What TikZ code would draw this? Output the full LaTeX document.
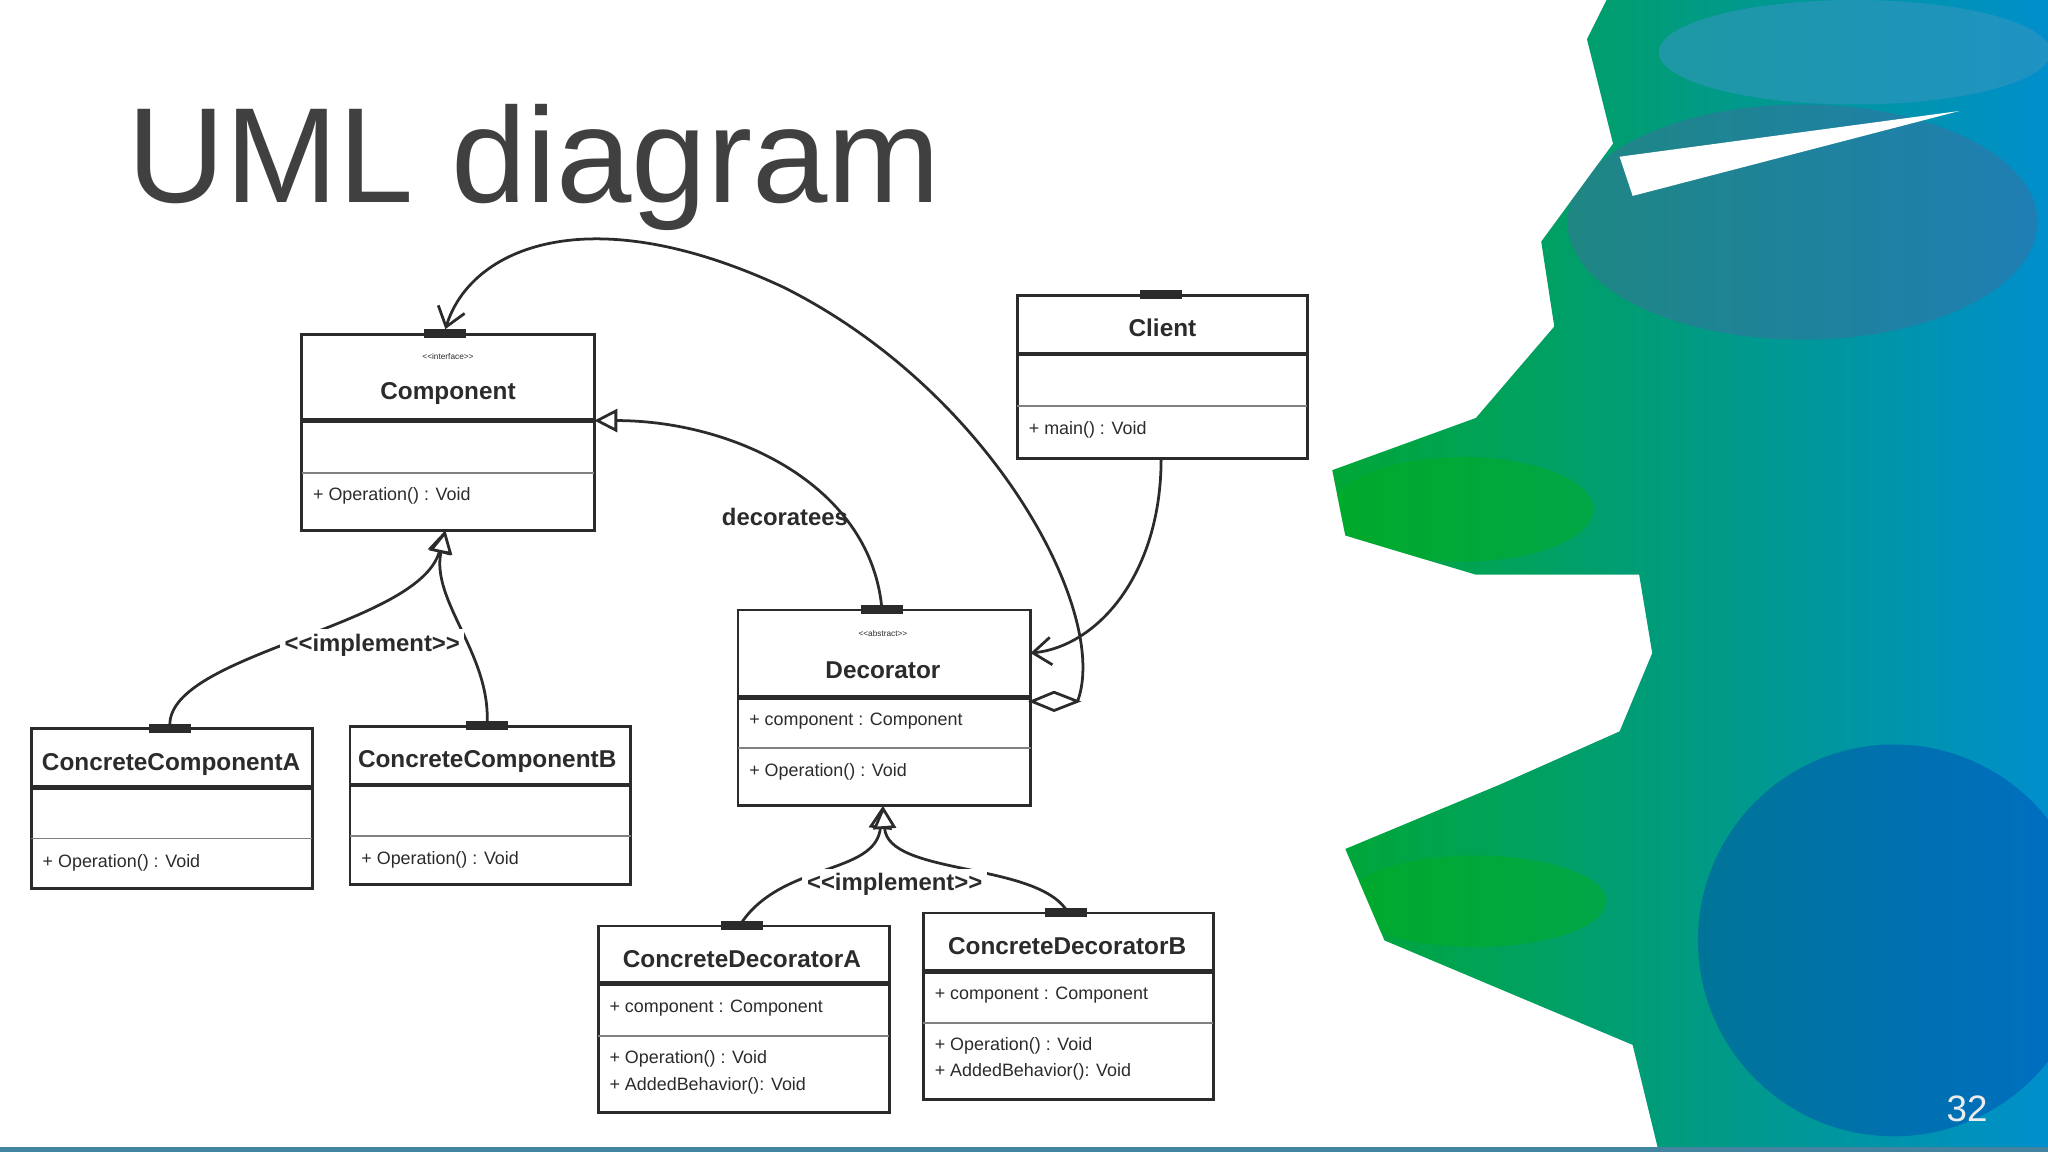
\documentclass[tikz,border=0pt]{standalone}
\usepackage{fontspec}
\setmainfont{Liberation Sans}
\usetikzlibrary{arrows.meta,fit}
\definecolor{ink}{HTML}{2B2B2B}
\definecolor{title}{HTML}{404040}
\begin{document}
\begin{tikzpicture}[x=0.01cm,y=-0.01cm,
  box/.style={draw=ink,line width=0.6pt,inner sep=0pt,fill=white},
  cname/.style={font=\fontsize{5.3}{6}\selectfont\bfseries,text=ink},
  mem/.style={font=\fontsize{3.9}{4.5}\selectfont,text=ink,anchor=west,inner sep=0pt},
  ster/.style={font=\fontsize{1.8}{2}\selectfont,text=ink},
  lbl/.style={font=\fontsize{5.2}{6}\selectfont\bfseries,text=ink},
  conn/.style={draw=ink,line width=0.6pt},
  gen/.style={conn,-{Triangle[open,length=5pt,width=5pt,fill=white]}},
  nav/.style={conn,-{Straight Barb[length=4pt,width=6pt]}},
  tabs/.style={fill=ink}]
\useasboundingbox (0,0) rectangle (1568,882);
% watercolor
\begin{scope}
\clip (1230,0)--(1568,0)--(1568,882)--(1270,882)--(1250,800)--(1060,720)--(1030,650)--(1150,600)--(1240,560)--(1265,500)--(1255,440)--(1130,440)--(1030,410)--(1020,360)--(1130,320)--(1190,250)--(1180,185)--(1235,110)--(1215,30)--cycle;
\shade[left color=green!55!teal!85!black,right color=cyan!70!blue!80!black] (1000,0) rectangle (1568,882);
\fill[cyan!60!blue!70!black,opacity=0.5] (1380,170) ellipse (180 and 90);
\fill[blue!60!cyan!70!black,opacity=0.45] (1450,720) ellipse (150 and 150);
\fill[green!70!teal!80!black,opacity=0.5] (1120,390) ellipse (100 and 40);
\fill[green!70!teal!80!black,opacity=0.5] (1130,690) ellipse (100 and 35);
\fill[cyan!50!teal,opacity=0.6] (1420,40) ellipse (150 and 40);
\fill[white] (1240,120)--(1500,85)--(1250,150)--cycle;
\end{scope}
\fill[cyan!50!teal!80!black] (0,878) rectangle (1568,882);
% title
\node[anchor=base west,text=title,font=\fontsize{29.5}{32}\selectfont,inner sep=0] (ttl) at (97,155) {UML diagram};
\node[text=white!85!gray,font=\fontsize{8}{9}\selectfont] (pg) at (1506,849) {32};
% Component
\node[box,fit={(231,256)(455,406)}] (comp) {};
\draw[ink,line width=1pt] (231,322)--(455,322); \draw[ink!60,line width=0.4pt] (231,362)--(455,362);
\node[ster] (compst) at (343,273) {<{}<interface>{}>};
\node[cname] (compn) at (343,301) {Component};
\node[mem] (compm) at (239,380) {+ Operation() : Void};
% Client
\node[box,fit={(779,226)(1001,351)}] (cli) {};
\draw[ink,line width=1pt] (779,271)--(1001,271); \draw[ink!60,line width=0.4pt] (779,311)--(1001,311);
\node[cname] (clin) at (890,251) {Client};
\node[mem] (clim) at (787,329) {+ main() : Void};
% Decorator
\node[box,fit={(565,467)(789,617)}] (dec) {};
\draw[ink,line width=1pt] (565,534)--(789,534); \draw[ink!60,line width=0.4pt] (565,573)--(789,573);
\node[ster] (decst) at (676,485) {<{}<abstract>{}>};
\node[cname] (decn) at (676,513) {Decorator};
\node[mem] (deca) at (573,552) {+ component : Component};
\node[mem] (decm) at (573,591) {+ Operation() : Void};
% CCA
\node[box,fit={(24,558)(239,680)}] (cca) {};
\draw[ink,line width=1pt] (24,603)--(239,603); \draw[ink!60,line width=0.4pt] (24,642)--(239,642);
\node[cname] (ccan) at (131,585) {ConcreteComponentA};
\node[mem] (ccam) at (32,661) {+ Operation() : Void};
% CCB
\node[box,fit={(268,556)(483,677)}] (ccb) {};
\draw[ink,line width=1pt] (268,601)--(483,601); \draw[ink!60,line width=0.4pt] (268,640)--(483,640);
\node[cname] (ccbn) at (373,583) {ConcreteComponentB};
\node[mem] (ccbm) at (276,658) {+ Operation() : Void};
% CDA
\node[box,fit={(458,709)(681,852)}] (cda) {};
\draw[ink,line width=1pt] (458,753)--(681,753); \draw[ink!60,line width=0.4pt] (458,793)--(681,793);
\node[cname] (cdan) at (568,734) {ConcreteDecoratorA};
\node[mem] (cdaa) at (466,772) {+ component : Component};
\node[mem] (cdam1) at (466,811) {+ Operation() : Void};
\node[mem] (cdam2) at (466,831) {+ AddedBehavior(): Void};
% CDB
\node[box,fit={(707,699)(929,842)}] (cdb) {};
\draw[ink,line width=1pt] (707,744)--(929,744); \draw[ink!60,line width=0.4pt] (707,783)--(929,783);
\node[cname] (cdbn) at (817,724) {ConcreteDecoratorB};
\node[mem] (cdba) at (715,762) {+ component : Component};
\node[mem] (cdbm1) at (715,801) {+ Operation() : Void};
\node[mem] (cdbm2) at (715,821) {+ AddedBehavior(): Void};
% tabs
\foreach \x/\y in {341/256,889/226,675/467,130/558,373/556,568/709,816/699}
  \fill[tabs] (\x-16,\y-4) rectangle (\x+16,\y+3);
% coordinates
\coordinate (compB) at (341,406); \coordinate (compR) at (455,322); \coordinate (compT) at (341,252);
\coordinate (ccaT) at (130,555); \coordinate (ccbT) at (373,553);
\coordinate (decT) at (675,464); \coordinate (decB) at (676,617); \coordinate (decR) at (789,500);
\coordinate (diam) at (825,537);
\coordinate (cliB) at (889,351);
\coordinate (cdaT) at (568,706); \coordinate (cdbT) at (816,696);
% connectors
\draw[gen] (ccaT) .. controls (130,500) and (320,480) .. (compB);
\draw[gen] (ccbT) .. controls (375,500) and (330,460) .. (compB);
\node[lbl,fill=white,inner sep=1pt] (impl1) at (285,494) {<{}<implement>{}>};
\draw[gen] (decT) .. controls (665,370) and (560,322) .. (compR);
\node[lbl] (dlbl) at (601,396) {decoratees};
\draw[nav] (diam) .. controls (850,470) and (760,300) .. (600,220) .. controls (450,150) and (360,190) .. (compT);
\draw[conn,fill=white] (790,537)--(807,530)--(825,537)--(807,544)--cycle;
\draw[nav] (cliB) .. controls (889,440) and (840,495) .. (decR);
\draw[gen] (cdaT) .. controls (600,660) and (670,670) .. (decB);
\draw[gen] (cdbT) .. controls (790,660) and (680,670) .. (decB);
\node[lbl,fill=white,inner sep=1pt] (impl2) at (685,677) {<{}<implement>{}>};
\end{tikzpicture}
\end{document}
